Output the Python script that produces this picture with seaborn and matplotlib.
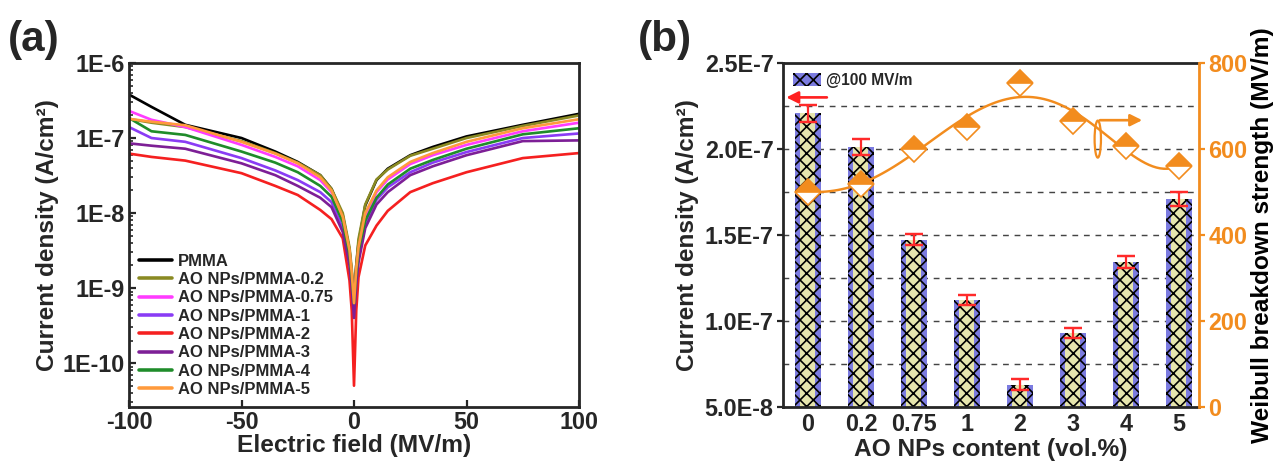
import numpy as np
import pandas as pd
import matplotlib
matplotlib.use("Agg")
import matplotlib.pyplot as plt
from matplotlib.patches import Ellipse, Patch
import seaborn as sns

# ---- panel (a): J-E curves ----
field = [-100, -90, -75, -50, -35, -25, -15, -10, -5, -2, -1, 0,
         1, 2, 5, 10, 15, 25, 35, 50, 75, 100]
pmma = [3.8e-7, 2.6e-7, 1.5e-7, 1.0e-7, 6.6e-8, 4.8e-8, 3.2e-8, 2.1e-8, 9.3e-9, 3.2e-9, 1.6e-9, 8e-10,
        2e-9, 4e-9, 1.26e-8, 2.75e-8, 3.9e-8, 5.9e-8, 7.6e-8, 1.05e-7, 1.5e-7, 2.1e-7]
ao_02 = [1.8e-7, 1.6e-7, 1.4e-7, 9.1e-8, 6.3e-8, 4.7e-8, 3.2e-8, 2.1e-8, 1.0e-8, 3.5e-9, 1.8e-9, 6.3e-10,
         2e-9, 4.5e-9, 1.3e-8, 2.8e-8, 3.8e-8, 5.8e-8, 7.2e-8, 1.0e-7, 1.45e-7, 2.0e-7]
ao_075 = [2.3e-7, 1.75e-7, 1.4e-7, 8.1e-8, 5.6e-8, 4.2e-8, 2.75e-8, 1.9e-8, 8.3e-9, 2.8e-9, 1.4e-9, 5.6e-10,
          1.6e-9, 3.2e-9, 8.9e-9, 1.9e-8, 2.8e-8, 4.5e-8, 5.9e-8, 8.1e-8, 1.23e-7, 1.6e-7]
ao_1 = [1.4e-7, 1.0e-7, 8.9e-8, 5.4e-8, 3.7e-8, 2.75e-8, 1.9e-8, 1.4e-8, 6.3e-9, 2.2e-9, 1.26e-9, 5e-10,
        1.26e-9, 2.5e-9, 7e-9, 1.5e-8, 2.2e-8, 3.5e-8, 4.7e-8, 6.5e-8, 1.0e-7, 1.15e-7]
ao_2 = [6.2e-8, 5.6e-8, 5.0e-8, 3.4e-8, 2.3e-8, 1.74e-8, 1.1e-8, 8.3e-9, 4.6e-9, 1.26e-9, 5e-10, 5e-11,
        5e-10, 1.4e-9, 3.7e-9, 6.8e-9, 1.07e-8, 1.9e-8, 2.5e-8, 3.5e-8, 5.4e-8, 6.3e-8]
ao_3 = [8.5e-8, 7.9e-8, 7.2e-8, 4.6e-8, 3.2e-8, 2.3e-8, 1.6e-8, 1.2e-8, 5.6e-9, 2e-9, 1e-9, 4e-10,
        1.1e-9, 2.2e-9, 6.3e-9, 1.3e-8, 1.9e-8, 3.2e-8, 4.2e-8, 5.9e-8, 9.1e-8, 9.3e-8]
ao_4 = [1.85e-7, 1.23e-7, 1.1e-7, 6.6e-8, 4.7e-8, 3.5e-8, 2.3e-8, 1.65e-8, 7.6e-9, 2.8e-9, 1.4e-9, 6.3e-10,
        1.6e-9, 3.2e-9, 7.9e-9, 1.6e-8, 2.4e-8, 3.9e-8, 5.1e-8, 7.2e-8, 1.12e-7, 1.35e-7]
ao_5 = [1.8e-7, 1.65e-7, 1.48e-7, 8.9e-8, 6.2e-8, 4.6e-8, 3.0e-8, 2.0e-8, 8.9e-9, 3.2e-9, 1.6e-9, 6.3e-10,
        1.8e-9, 3.5e-9, 1.0e-8, 2.0e-8, 3.0e-8, 4.8e-8, 6.3e-8, 8.9e-8, 1.35e-7, 1.78e-7]

samples = ['PMMA', 'AO NPs/PMMA-0.2', 'AO NPs/PMMA-0.75', 'AO NPs/PMMA-1',
           'AO NPs/PMMA-2', 'AO NPs/PMMA-3', 'AO NPs/PMMA-4', 'AO NPs/PMMA-5']
curves = [pmma, ao_02, ao_075, ao_1, ao_2, ao_3, ao_4, ao_5]
line_colors = ['#000000', '#8a8a22', '#ff3cff', '#8a3cf5', '#f52020', '#7d1f96', '#1f8c2a', '#ff9a3c']

# ---- panel (b): bars + breakdown strength ----
content = ['0', '0.2', '0.75', '1', '2', '3', '4', '5']
current = [2.207e-7, 2.012e-7, 1.473e-7, 1.124e-7, 6.3e-8, 9.3e-8, 1.343e-7, 1.709e-7]
current_err = [5e-9, 4.6e-9, 3.3e-9, 3e-9, 3e-9, 3e-9, 3.7e-9, 4e-9]
weibull = [500, 518, 600, 651, 753, 664, 606, 560]

orange = '#f28c1e'
bar_blue = '#7b7be0'
bar_yellow = '#f3f1a8'

sns.set_style('ticks')
plt.rcParams['font.family'] = ['Liberation Sans', 'DejaVu Sans']
plt.rcParams['font.weight'] = 'bold'
plt.rcParams['axes.labelweight'] = 'bold'
plt.rcParams['hatch.linewidth'] = 1.5

fig = plt.figure(figsize=(1277 / 80, 465 / 80), dpi=80)
ax1 = fig.add_axes([129 / 1277, 1 - 407 / 465, 450 / 1277, 344 / 465])
ax2 = fig.add_axes([783 / 1277, 1 - 407 / 465, 416 / 1277, 344 / 465])

# long table for seaborn
rows = []
for name, vals in zip(samples, curves):
    for e, j in zip(field, vals):
        rows.append({'E': e, 'J': j, 'sample': name})
df_a = pd.DataFrame(rows)

sns.lineplot(data=df_a, x='E', y='J', hue='sample', hue_order=samples,
             palette=line_colors, lw=2.4, sort=False, estimator=None, ax=ax1)
ax1.set_yscale('log')
ax1.set_xlim(-100, 100)
ax1.set_ylim(2.6e-11, 1e-6)
ax1.set_xticks([-100, -50, 0, 50, 100])
ax1.set_xticklabels(['-100', '-50', '0', '50', '100'])
ax1.set_yticks([1e-6, 1e-7, 1e-8, 1e-9, 1e-10])
ax1.set_yticklabels(['1E-6', '1E-7', '1E-8', '1E-9', '1E-10'])
ax1.tick_params(axis='both', which='major', direction='in', length=6, width=2,
                labelsize=21, top=False, right=False, pad=4)
ax1.tick_params(axis='y', which='minor', direction='in', length=3.5, width=1.5)
ax1.set_xlabel('Electric field (MV/m)', fontsize=22, labelpad=0)
ax1.set_ylabel('Current density (A/cm²)', fontsize=22, labelpad=3)
for s in ax1.spines.values():
    s.set_linewidth(2.5)
leg = ax1.legend(loc='lower left', frameon=False, fontsize=15, handlelength=2.0,
                 labelspacing=0.2, borderaxespad=0.2, handletextpad=0.35,
                 bbox_to_anchor=(0.0, 0.0))
for t in leg.get_texts():
    t.set_fontweight('bold')
for h in leg.get_lines():
    h.set_linewidth(3.2)

# ---- panel (b) ----
df_b = pd.DataFrame({'content': content, 'current': current})
ax2.set_axisbelow(True)
sns.barplot(data=df_b, x='content', y='current', order=content, color=bar_blue,
            width=0.5, saturation=1, ax=ax2)
n0 = len(ax2.patches)
sns.barplot(data=df_b, x='content', y='current', order=content, color=bar_yellow,
            width=0.28, saturation=1, ax=ax2)
sns.barplot(data=df_b, x='content', y='current', order=content, color='black',
            width=0.5, saturation=1, ax=ax2)
for p in ax2.patches[:n0]:
    p.set_edgecolor('none')
for p in ax2.patches[n0:2 * n0]:
    p.set_edgecolor('none')
    p.set_alpha(0.9)
for p in ax2.patches[2 * n0:]:
    p.set_facecolor('none')
    p.set_edgecolor('black')
    p.set_linewidth(0)
    p.set_hatch('xx')

ax2.errorbar(x=np.arange(len(content)), y=current, yerr=current_err, fmt='none',
             ecolor='#ff2a2a', elinewidth=2, capsize=8, capthick=2.2, zorder=5)

ax2.set_xlim(-0.47, 7.38)
ax2.set_ylim(5e-8, 2.5e-7)
ax2.set_yticks([5e-8, 1e-7, 1.5e-7, 2e-7, 2.5e-7])
ax2.set_yticklabels(['5.0E-8', '1.0E-7', '1.5E-7', '2.0E-7', '2.5E-7'])
ax2.set_yticks([7.5e-8, 1.25e-7, 1.75e-7, 2.25e-7], minor=True)
ax2.yaxis.grid(True, which='minor', ls=(0, (4, 4)), color='#444444', lw=1.3)
for yv in [1e-7, 1.5e-7, 2e-7]:
    ax2.axhline(yv, ls=(0, (4, 4)), color='#444444', lw=1.3, zorder=0.5)
ax2.tick_params(axis='y', which='major', direction='out', length=5, width=2, labelsize=21)
ax2.tick_params(axis='y', which='minor', length=0)
ax2.tick_params(axis='x', length=0, labelsize=21, pad=5)
ax2.set_xlabel('AO NPs content (vol.%)', fontsize=22, labelpad=2)
ax2.set_ylabel('Current density (A/cm²)', fontsize=22, labelpad=5)
for s in ax2.spines.values():
    s.set_linewidth(2.5)
ax2.spines['right'].set_visible(False)

ax2.annotate('', xy=(-0.45, 2.3e-7), xytext=(0.4, 2.3e-7),
             arrowprops=dict(arrowstyle='-|>', color='#ff2020', lw=2.4, mutation_scale=22))

hatch_patch = Patch(facecolor='none', edgecolor='black', hatch='xx', lw=0)
base_patch = Patch(facecolor=bar_blue, edgecolor='none')
leg2 = ax2.legend([(base_patch, hatch_patch)], ['@100 MV/m'], loc='upper left',
                  frameon=False, fontsize=14, handlelength=1.8, handleheight=0.9,
                  borderaxespad=0.25, handletextpad=0.3)
for t in leg2.get_texts():
    t.set_fontweight('bold')

# right axis: breakdown strength
ax3 = ax2.twinx()
xs = np.arange(len(content))
sns.regplot(x=xs, y=np.array(weibull, dtype=float), order=5, ci=None, scatter=False,
            line_kws=dict(color=orange, lw=2.2), ax=ax3)
ax3.plot(xs, weibull, ls='none', marker='D', markersize=16, fillstyle='top',
         markerfacecolor=orange, markerfacecoloralt='white', markeredgecolor=orange,
         markeredgewidth=1.5, zorder=6)
ax3.add_patch(Ellipse((5.47, 623), width=0.12, height=86, fill=False,
                      edgecolor=orange, lw=2))
ax3.annotate('', xy=(6.35, 667), xytext=(5.47, 667),
             arrowprops=dict(arrowstyle='-|>', color=orange, lw=2.4, mutation_scale=22))
ax3.set_xlim(-0.47, 7.38)
ax3.set_ylim(0, 800)
ax3.set_yticks([0, 200, 400, 600, 800])
ax3.tick_params(axis='y', direction='out', length=5, width=2, colors=orange, labelsize=21)
for t in ax3.get_yticklabels():
    t.set_fontweight('bold')
ax3.set_ylabel('Weibull breakdown strength (MV/m)', fontsize=22, color='black', labelpad=3)
for side in ['left', 'top', 'bottom']:
    ax3.spines[side].set_visible(False)
ax3.spines['right'].set_color(orange)
ax3.spines['right'].set_linewidth(2.5)

fig.text(8 / 1277, 1 - 51 / 465, '(a)', fontsize=38, fontweight='bold')
fig.text(638 / 1277, 1 - 51 / 465, '(b)', fontsize=38, fontweight='bold')

fig.savefig('out.png', dpi=80)
